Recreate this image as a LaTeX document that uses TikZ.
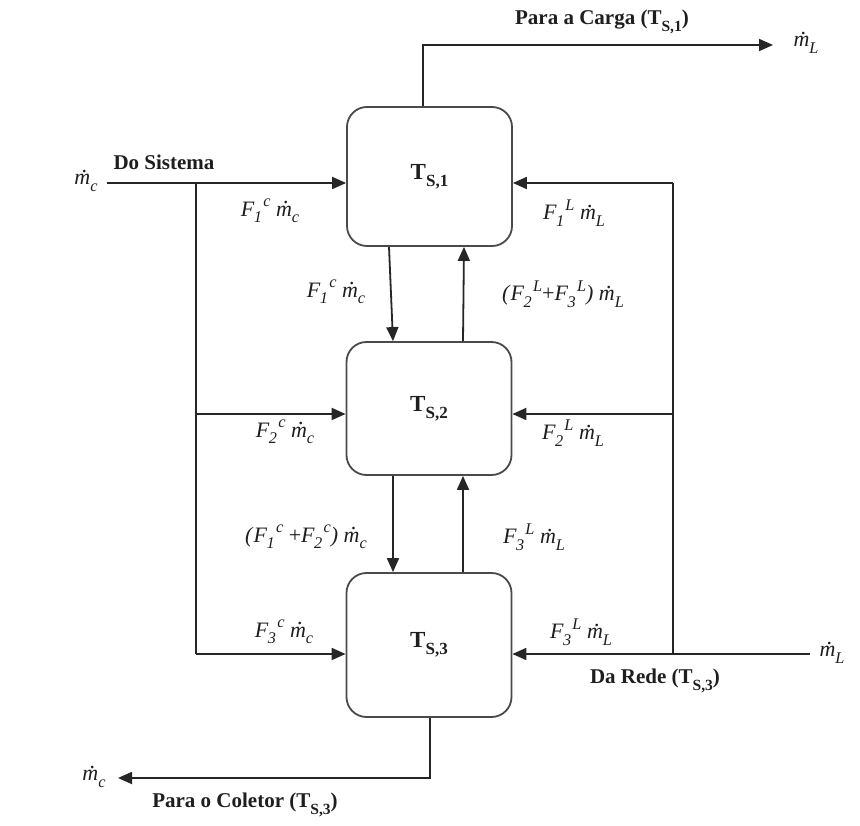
\documentclass[tikz,border=0pt]{standalone}
\usepackage{fontspec}
\setmainfont{Liberation Serif}
\usetikzlibrary{arrows.meta}
\definecolor{linegray}{HTML}{262626}
\definecolor{boxgray}{HTML}{4A4A4A}
\definecolor{textgray}{HTML}{1E1E1E}
\newcommand\lo[1]{\raisebox{-0.3em}{\scalebox{0.74}{#1}}}
\newcommand\hi[1]{\raisebox{0.42em}{\scalebox{0.74}{#1}}}
\newcommand\mdot{\ooalign{m\cr\hidewidth\kern0.22em\raisebox{0.56em}{.}\hidewidth\cr}}
\newcommand\Fl[2]{\textit{F\kern-0.02em\lo{#1}\kern0.06em\hi{#2}}}
\newcommand\md[1]{\textit{\mdot\lo{#1}}}
\begin{document}
\begin{tikzpicture}[x=1pt,y=-1pt,
  tank/.style={draw=boxgray,line width=1.8pt,rounded corners=20pt,minimum width=165pt,inner sep=0pt,text=textgray,font=\fontsize{23}{27}\selectfont\bfseries},
  flow/.style={line width=1.8pt,draw=linegray},
  arr/.style={flow,-{Triangle[length=14pt,width=12pt]}},
  lbl/.style={font=\fontsize{22}{26}\selectfont,inner sep=0pt,text=textgray},
  tag/.style={font=\fontsize{21}{25}\selectfont\bfseries,inner sep=0pt,text=textgray}]
\useasboundingbox[fill=white] (0,0) rectangle (860,826);

% tanks
\node[tank,minimum height=139pt] (t1) at (429.5,176.5) {T\lo{S,1}};
\node[tank,minimum height=133pt] (t2) at (429,408.5) {T\lo{S,2}};
\node[tank,minimum height=144pt] (t3) at (429,645) {T\lo{S,3}};

% coordinates
\coordinate (mcin) at (107,183);
\coordinate (jl1) at (196,183);
\coordinate (jl2) at (196,414);
\coordinate (jl3) at (196,654);
\coordinate (jr1) at (673,183);
\coordinate (jr2) at (673,414);
\coordinate (jr3) at (673,654);
\coordinate (mlin) at (810,654);
\coordinate (top1) at (423,45);
\coordinate (mlout) at (773,45);
\coordinate (bot1) at (430,778);
\coordinate (mcout) at (118,778);
\coordinate (dA) at (389,0);
\coordinate (dB) at (393,0);
\coordinate (uA) at (463,0);
\coordinate (uB) at (464,0);

% connectors
\draw[arr] (mcin) -- (mcin -| t1.west);
\draw[flow] (jl1) -- (jl3);
\draw[arr] (jl2) -- (jl2 -| t2.west);
\draw[arr] (jl3) -- (jl3 -| t3.west);
\draw[arr] (mlin) -- (mlin -| t3.east);
\draw[flow] (jr3) -- (jr1);
\draw[arr] (jr1) -- (jr1 -| t1.east);
\draw[arr] (jr2) -- (jr2 -| t2.east);
\draw[arr] (t1.north -| top1) -- (top1) -- (mlout);
\draw[arr] (t3.south -| bot1) -- (bot1) -- (mcout);
\draw[arr] (t1.south -| dA) -- (t2.north -| dB);
\draw[arr] (t2.north -| uA) -- (t1.south -| uB);
\draw[arr] (t2.south -| dB) -- (t3.north -| dB);
\draw[arr] (t3.north -| uA) -- (t2.south -| uA);

% end labels
\node[lbl] (mcleft) at (86,183) {\md{c}};
\node[lbl] (mltop) at (806,45) {\md{L}};
\node[lbl] (mlright) at (832,655) {\md{L}};
\node[lbl] (mcbot) at (94,779) {\md{c}};

% tags
\node[tag] (carga) at (602,22) {Para a Carga (T\lo{S,1})};
\node[tag] (sistema) at (164,162) {Do Sistema};
\node[tag] (rede) at (655,681) {Da Rede (T\lo{S,3})};
\node[tag] (coletor) at (245,805) {Para o Coletor (T\lo{S,3})};

% flow labels
\node[lbl] (f1c) at (270,211) {\Fl{1}{c} \md{c}};
\node[lbl] (f1l) at (574,213) {\Fl{1}{L} \md{L}};
\node[lbl] (f1cd) at (336,292) {\Fl{1}{c} \md{c}};
\node[lbl] (f23l) at (563,294) {\textit{(}\Fl{2}{L}+\Fl{3}{L}\textit{)} \md{L}};
\node[lbl] (f2c) at (285,432) {\Fl{2}{c} \md{c}};
\node[lbl] (f2l) at (573,433) {\Fl{2}{L} \md{L}};
\node[lbl] (f12c) at (306,537) {\textit{(}\Fl{1}{c} +\Fl{2}{c}\textit{)} \md{c}};
\node[lbl] (f3lu) at (534,537) {\Fl{3}{L} \md{L}};
\node[lbl] (f3c) at (284,632) {\Fl{3}{c} \md{c}};
\node[lbl] (f3l) at (581,632) {\Fl{3}{L} \md{L}};
\end{tikzpicture}
\end{document}
